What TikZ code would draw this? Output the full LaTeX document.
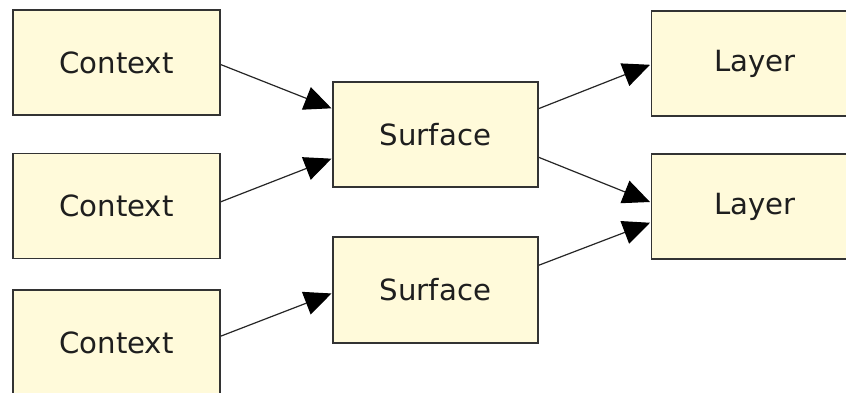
\documentclass[tikz,border=0pt]{standalone}
\usepackage{fontspec}
\setmainfont{DejaVu Sans}
\usetikzlibrary{arrows.meta,calc}
\definecolor{boxfill}{HTML}{FFFADA}
\definecolor{boxline}{HTML}{333333}
\definecolor{txt}{HTML}{1E1E1E}
\tikzset{
  box/.style={draw=boxline, fill=boxfill, line width=0.95pt, inner sep=0pt,
    minimum width=103.5pt, minimum height=52.5pt, text=txt,
    font=\fontsize{14.6pt}{17pt}\selectfont},
  conn/.style={draw=black!85, line width=0.6pt,
    -{Triangle[length=13.5pt,width=12pt,color=black,fill=black]}, shorten >=0.3pt}
}
\begin{document}
\begin{tikzpicture}[x=0.5pt,y=-0.5pt]
\useasboundingbox (0,0) rectangle (846,392);
\clip (0,0) rectangle (846,392);
\fill[white] (0,0) rectangle (846,392);
\node[box] (c1) at (116.5,62.5) {Context};
\node[box] (c2) at (116.5,206) {Context};
\node[box] (c3) at (116.5,342.5) {Context};
\node[box, minimum width=102.5pt] (s1) at (435.5,134.5) {Surface};
\node[box, minimum width=102.5pt, minimum height=53pt] (s2) at (435.5,290) {Surface};
\node[box] (l1) at (755,63.5) {Layer};
\node[box] (l2) at (755,206.5) {Layer};
\draw[conn] ($(c1.north east)!0.52!(c1.south east)$) -- ($(s1.north west)!0.257!(s1.south west)$);
\draw[conn] ($(c2.north east)!0.46!(c2.south east)$) -- ($(s1.north west)!0.724!(s1.south west)$);
\draw[conn] ($(c3.north east)!0.44!(c3.south east)$) -- ($(s2.north west)!0.53!(s2.south west)$);
\draw[conn] ($(s1.north east)!0.257!(s1.south east)$) -- ($(l1.north west)!0.51!(l1.south west)$);
\draw[conn] ($(s1.north east)!0.714!(s1.south east)$) -- ($(l2.north west)!0.46!(l2.south west)$);
\draw[conn] ($(s2.north east)!0.27!(s2.south east)$) -- ($(l2.north west)!0.65!(l2.south west)$);
\end{tikzpicture}
\end{document}
